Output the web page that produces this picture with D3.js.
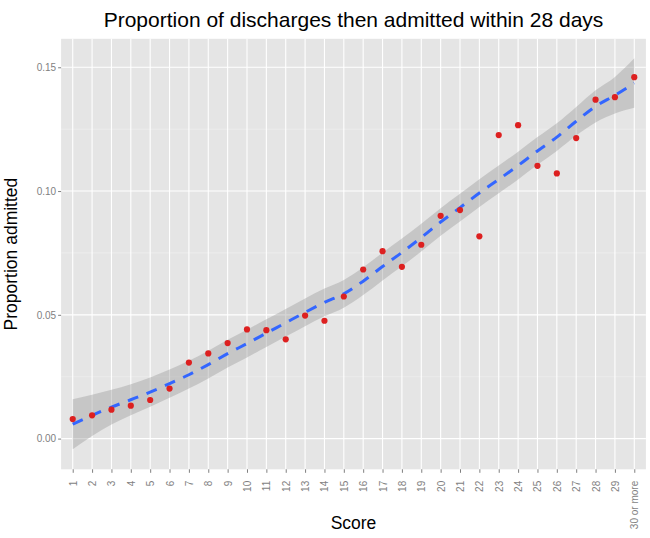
<!DOCTYPE html>
<html>
<head>
<meta charset="utf-8">
<script src="https://cdn.jsdelivr.net/npm/d3@7"></script>
<style>
  html, body { margin: 0; padding: 0; background: #ffffff; }
  svg { display: block; font-family: "Liberation Sans", Arial, sans-serif; }
</style>
</head>
<body>
<svg id="chart" width="650" height="538"></svg>
<script>
const categories = ["1","2","3","4","5","6","7","8","9","10","11","12","13","14","15",
  "16","17","18","19","20","21","22","23","24","25","26","27","28","29","30 or more"];

const proportions = [0.0079, 0.0094, 0.0117, 0.0133, 0.0156, 0.0202, 0.0307, 0.0344, 0.0386, 0.0441,
  0.0438, 0.0401, 0.0497, 0.0476, 0.0574, 0.0683, 0.0757, 0.0694, 0.0783, 0.0900,
  0.0923, 0.0817, 0.1226, 0.1266, 0.1102, 0.1071, 0.1214, 0.1369, 0.1379, 0.1460];

const fitValues = [0.0058, 0.0094, 0.0127, 0.0157, 0.0188, 0.0222, 0.0258, 0.0299, 0.0343, 0.0384,
  0.0426, 0.0468, 0.0510, 0.0550, 0.0585, 0.0636, 0.0695, 0.0752, 0.0812, 0.0875,
  0.0933, 0.0992, 0.1047, 0.1103, 0.1162, 0.1218, 0.1282, 0.1342, 0.1387, 0.1436];

const fitLower = [-0.0043, 0.0011, 0.0057, 0.0094, 0.0129, 0.0165, 0.0202, 0.0243, 0.0287, 0.0328,
  0.0370, 0.0412, 0.0454, 0.0494, 0.0529, 0.0580, 0.0639, 0.0696, 0.0756, 0.0819,
  0.0877, 0.0936, 0.0991, 0.1047, 0.1106, 0.1162, 0.1224, 0.1277, 0.1313, 0.1336];

const fitUpper = [0.0159, 0.0177, 0.0197, 0.0220, 0.0247, 0.0279, 0.0314, 0.0355, 0.0399, 0.0440,
  0.0482, 0.0524, 0.0566, 0.0606, 0.0641, 0.0692, 0.0751, 0.0808, 0.0868, 0.0931,
  0.0989, 0.1048, 0.1103, 0.1159, 0.1218, 0.1274, 0.1340, 0.1407, 0.1461, 0.1536];

const yTicks = [0.00, 0.05, 0.10, 0.15];
const yMinorTicks = [0.025, 0.075, 0.125];

const titleText = "Proportion of discharges then admitted within 28 days";
const xTitle = "Score";
const yTitle = "Proportion admitted";

const panel = { left: 61.1, right: 645.9, top: 38.8, bottom: 469.3 };

const svg = d3.select("#chart");

const x = d3.scalePoint().domain(categories).range([panel.left, panel.right]).padding(0.6);
const y = d3.scaleLinear().domain([-0.0124, 0.1615]).range([panel.bottom, panel.top]);

// panel background
svg.append("rect")
  .attr("x", panel.left).attr("y", panel.top)
  .attr("width", panel.right - panel.left).attr("height", panel.bottom - panel.top)
  .attr("fill", "#E5E5E5");

// minor gridlines
svg.append("g").selectAll("line").data(yMinorTicks).join("line")
  .attr("x1", panel.left).attr("x2", panel.right)
  .attr("y1", d => y(d)).attr("y2", d => y(d))
  .attr("stroke", "#F2F2F2").attr("stroke-width", 0.6);

// major gridlines
svg.append("g").selectAll("line").data(yTicks).join("line")
  .attr("x1", panel.left).attr("x2", panel.right)
  .attr("y1", d => y(d)).attr("y2", d => y(d))
  .attr("stroke", "#FFFFFF").attr("stroke-width", 1.1);

svg.append("g").selectAll("line").data(categories).join("line")
  .attr("x1", d => x(d)).attr("x2", d => x(d))
  .attr("y1", panel.top).attr("y2", panel.bottom)
  .attr("stroke", "#FFFFFF").attr("stroke-width", 1.1);

const rows = categories.map((c, i) => ({ c, p: proportions[i], f: fitValues[i], lo: fitLower[i], hi: fitUpper[i] }));

// confidence ribbon
const area = d3.area()
  .x(d => x(d.c)).y0(d => y(d.lo)).y1(d => y(d.hi))
  .curve(d3.curveMonotoneX);
svg.append("path").datum(rows)
  .attr("d", area)
  .attr("fill", "#999999").attr("fill-opacity", 0.4);

// fitted line
const line = d3.line().x(d => x(d.c)).y(d => y(d.f)).curve(d3.curveMonotoneX);
svg.append("path").datum(rows)
  .attr("d", line)
  .attr("fill", "none")
  .attr("stroke", "#3366FF").attr("stroke-width", 3)
  .attr("stroke-dasharray", "11,9");

// points
svg.append("g").selectAll("circle").data(rows).join("circle")
  .attr("cx", d => x(d.c)).attr("cy", d => y(d.p))
  .attr("r", 3.1)
  .attr("fill", "#DD2020");

// y axis
const yAxis = d3.axisLeft(y).tickValues(yTicks).tickFormat(d3.format(".2f")).tickSize(3).tickPadding(2);
const gy = svg.append("g").attr("transform", `translate(${panel.left},0)`).call(yAxis);
gy.select(".domain").remove();
gy.selectAll(".tick line").attr("stroke", "#7F7F7F");
gy.selectAll(".tick text").attr("fill", "#7F7F7F").style("font-size", "10px")
  .style("font-family", "'Liberation Sans', Arial, sans-serif");

// x axis
const xAxis = d3.axisBottom(x).tickSize(3.5).tickPadding(0);
const gx = svg.append("g").attr("transform", `translate(0,${panel.bottom})`).call(xAxis);
gx.select(".domain").remove();
gx.selectAll(".tick line").attr("stroke", "#7F7F7F");
gx.selectAll(".tick text")
  .attr("fill", "#7F7F7F").style("font-size", "10px")
  .style("font-family", "'Liberation Sans', Arial, sans-serif")
  .attr("transform", "rotate(-90)")
  .attr("x", -11.5).attr("y", 0).attr("dy", "0.35em")
  .attr("text-anchor", "end");

// titles
svg.append("text")
  .attr("x", (panel.left + panel.right) / 2).attr("y", 27)
  .attr("text-anchor", "middle")
  .style("font-size", "21px").attr("fill", "#000")
  .text(titleText);

svg.append("text")
  .attr("x", (panel.left + panel.right) / 2).attr("y", 529)
  .attr("text-anchor", "middle")
  .style("font-size", "17.5px").attr("fill", "#000")
  .text(xTitle);

svg.append("text")
  .attr("transform", `translate(17,${(panel.top + panel.bottom) / 2}) rotate(-90)`)
  .attr("text-anchor", "middle")
  .style("font-size", "17.5px").attr("fill", "#000")
  .text(yTitle);
</script>
</body>
</html>
